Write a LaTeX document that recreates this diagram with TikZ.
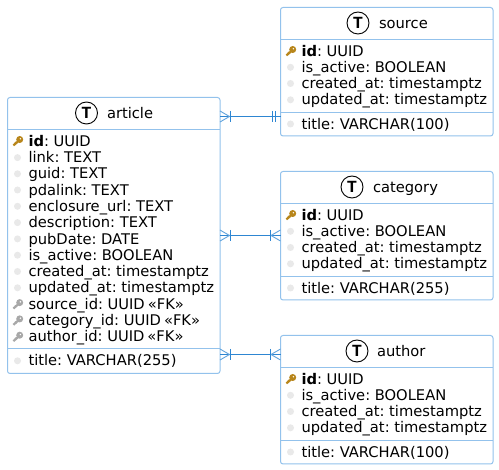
\documentclass[tikz,border=0pt]{standalone}
\usepackage{fontspec}
\setmainfont[WordSpace=0.65]{DejaVu Sans}
\newfontfamily\tfont{Liberation Mono}
\definecolor{boxline}{HTML}{93C2EC}
\definecolor{relline}{HTML}{2E86D2}
\definecolor{bullet}{HTML}{E9E9E9}
\definecolor{pkkey}{HTML}{B8861B}
\definecolor{fkkey}{HTML}{A8A8A8}
\tikzset{
  entitybox/.style={draw=boxline,line width=1pt,fill=white,rounded corners=2.5pt,minimum width=#1,inner sep=0pt,outer sep=0pt,anchor=north west},
  rowtext/.style={anchor=base west,inner sep=0pt,outer sep=0pt,font=\fontsize{14.7}{16}\selectfont,text=black},
  headtext/.style={anchor=base west,inner sep=0pt,outer sep=0pt,font=\fontsize{14.7}{16}\selectfont,text=black},
  sepline/.style={draw=boxline,line width=1pt},
  ticon/.style={circle,draw=black,line width=0.9pt,minimum size=22pt,inner sep=0pt,fill=white,font=\tfont\bfseries\fontsize{17}{17}\selectfont},
  relmain/.style={draw=relline,line width=1.1pt},
  relfoot/.style={draw=relline!75!white,line width=0.9pt},
  relbar/.style={draw=relline,line width=1pt},
  bulletdot/.style={circle,fill=bullet,minimum size=7pt,inner sep=0pt},
}
\newcommand{\plainrow}[4]{%
  \node[bulletdot] (#1b) at (#2-11,#3) {};
  \node[rowtext] (#1) at (#2,#3+5.2) {#4};}
\newcommand{\keyglyph}[3]{%
  \draw[#3,line width=2.2pt] (#1-4.6,#2+4.4) -- (#1+0.5,#2);
  \draw[#3,line width=1.4pt] (#1-3,#2+1.2) -- (#1-1.4,#2+2.8);
  \fill[#3] (#1+1.7,#2-1.5) circle (3.5pt);
  \fill[white] (#1+2.4,#2-2.2) circle (0.8pt);}
\newcommand{\keyrow}[5]{%
  \keyglyph{#2-10.5}{#3}{#5}
  \node[rowtext] (#1) at (#2,#3+5.2) {#4};}
\newcommand{\smallentity}[6]{%
  % name, top y, icon x, head x, title, last row
  \node[entitybox=212.5pt,minimum height=128.5pt] (#1) at (280.5,#2) {};
  \draw[sepline] (#1.north west |- 0,#2+32) -- (#1.north east |- 0,#2+32);
  \draw[sepline] (#1.north west |- 0,#2+105) -- (#1.north east |- 0,#2+105);
  \node[ticon] (#1icon) at (#3,#2+15.5) {T};
  \node[headtext] (#1head) at (#4,#2+20.7) {#5};
  \keyrow{#1id}{301.5}{#2+43.5}{\textbf{id}: UUID}{pkkey}
  \plainrow{#1act}{301.5}{#2+59.8}{is\_active: BOOLEAN}
  \plainrow{#1cre}{301.5}{#2+76}{created\_at: timestamptz}
  \plainrow{#1upd}{301.5}{#2+92.3}{updated\_at: timestamptz}
  \plainrow{#1tit}{301.5}{#2+116.5}{#6}}
\newcommand{\manyfoot}[2]{% at x, y; opens toward box on the left
  \draw[relfoot] (#1,#2-5.5) -- (#1+9.5,#2) -- (#1,#2+5.5);
  \draw[relbar] (#1+10.5,#2-5.5) -- (#1+10.5,#2+5.5);}
\newcommand{\manyfootr}[2]{% at x, y; opens toward box on the right
  \draw[relfoot] (#1,#2-5.5) -- (#1-9.5,#2) -- (#1,#2+5.5);
  \draw[relbar] (#1-10.5,#2-5.5) -- (#1-10.5,#2+5.5);}
\begin{document}
\begin{tikzpicture}[x=1pt,y=-1pt]
\useasboundingbox (0,0) rectangle (499,470);
\fill[white] (0,0) rectangle (499,470);
% article
\node[entitybox=212.5pt,minimum height=276pt] (article) at (7.5,97.5) {};
\draw[sepline] (7.5,129.5) -- (220,129.5);
\draw[sepline] (7.5,349) -- (220,349);
\node[ticon] (articleicon) at (86.5,113) {T};
\node[headtext] (articlehead) at (107,118.2) {article};
\keyrow{aid}{28.5}{141}{\textbf{id}: UUID}{pkkey}
\plainrow{alink}{28.5}{157.6}{link: TEXT}
\plainrow{aguid}{28.5}{173.8}{guid: TEXT}
\plainrow{apda}{28.5}{190}{pdalink: TEXT}
\plainrow{aenc}{28.5}{206.3}{enclosure\_url: TEXT}
\plainrow{adesc}{28.5}{222.6}{description: TEXT}
\plainrow{apub}{28.5}{238.9}{pubDate: DATE}
\plainrow{aact}{28.5}{255.2}{is\_active: BOOLEAN}
\plainrow{acre}{28.5}{271.5}{created\_at: timestamptz}
\plainrow{aupd}{28.5}{287.8}{updated\_at: timestamptz}
\keyrow{asrc}{28.5}{304.1}{source\_id: UUID «FK»}{fkkey}
\keyrow{acat}{28.5}{320.4}{category\_id: UUID «FK»}{fkkey}
\keyrow{aaut}{28.5}{336.7}{author\_id: UUID «FK»}{fkkey}
\plainrow{atit}{28.5}{360.8}{title: VARCHAR(255)}
% others
\smallentity{source}{7.5}{358}{379}{source}{title: VARCHAR(100)}
\smallentity{category}{171.5}{352}{373}{category}{title: VARCHAR(255)}
\smallentity{author}{335.5}{357}{377}{author}{title: VARCHAR(100)}
% relations
\coordinate (s1) at (article.east |- 0,116.5);
\coordinate (e1) at (source.west |- 0,116.5);
\coordinate (s2) at (article.east |- 0,235.5);
\coordinate (e2) at (category.west |- 0,235.5);
\coordinate (s3) at (article.east |- 0,354.5);
\coordinate (e3) at (author.west |- 0,354.5);
\draw[relmain] (s1) -- (e1);
\draw[relmain] (s2) -- (e2);
\draw[relmain] (s3) -- (e3);
\manyfoot{220}{116.5}
\manyfoot{220}{235.5}
\manyfoot{220}{354.5}
\draw[relbar] (272.5,111) -- (272.5,122);
\draw[relbar] (275.8,111) -- (275.8,122);
\manyfootr{280.5}{235.5}
\manyfootr{280.5}{354.5}
\end{tikzpicture}
\end{document}
